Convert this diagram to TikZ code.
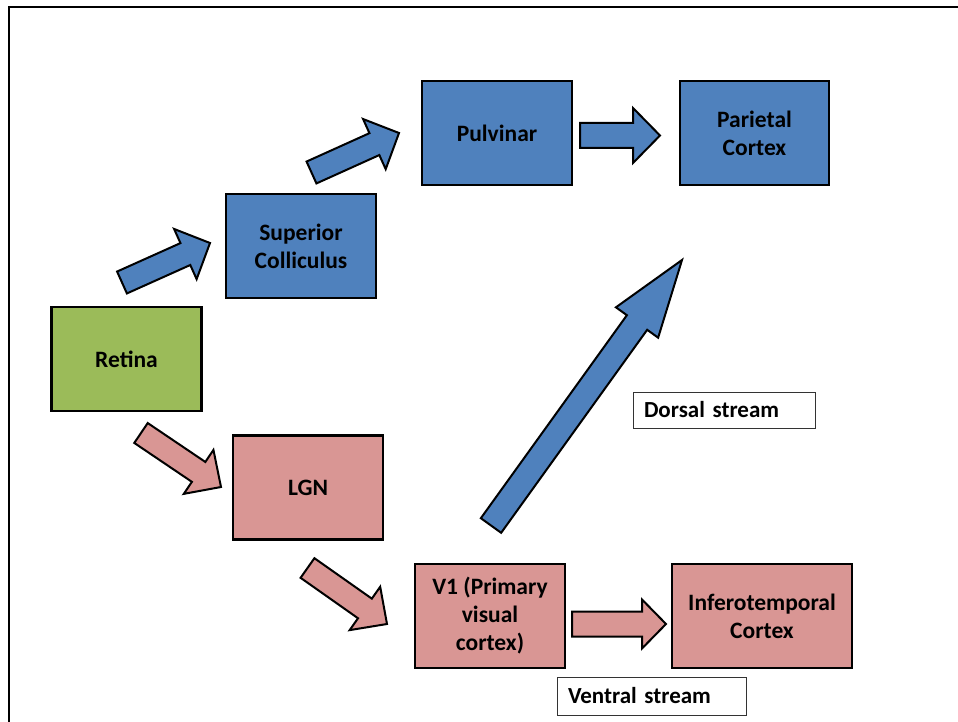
\documentclass[tikz,border=0pt]{standalone}
\usepackage{fontspec}
\setmainfont{Carlito}
\usetikzlibrary{calc}
\definecolor{boxblue}{HTML}{4F81BD}
\definecolor{boxgreen}{HTML}{9BBB59}
\definecolor{boxpink}{HTML}{D99694}
% #1 tail, #2 tip, #3 half shaft width, #4 half head width, #5 head length, #6 style
\newcommand{\blockarrow}[6]{%
  \coordinate (hb-#2) at ($(#2)!#5!(#1)$);
  \draw[#6] ($(#1)!#3!90:(#2)$) -- ($(hb-#2)!#3!90:(#2)$) -- ($(hb-#2)!#4!90:(#2)$)
    -- (#2) -- ($(hb-#2)!#4!-90:(#2)$) -- ($(hb-#2)!#3!-90:(#2)$)
    -- ($(#1)!#3!-90:(#2)$) -- cycle;}
\begin{document}
\begin{tikzpicture}[x=1pt,y=-1pt,
  stagebox/.style={draw=black,line width=2.5pt,minimum height=104pt,minimum width=150pt,
    inner sep=0pt,align=center,font=\fontsize{23.5}{28}\selectfont\bfseries},
  labelbox/.style={draw=black!80,line width=0.8pt,fill=white,inner xsep=11pt,inner ysep=0pt,
    align=left,font=\fontsize{23}{28}\selectfont\bfseries},
  bluearrow/.style={draw=black,line width=2pt,fill=boxblue},
  pinkarrow/.style={draw=black,line width=2pt,fill=boxpink}]
\useasboundingbox (0,0) rectangle (958,722);
\fill[white] (0,0) rectangle (958,722);
\draw[line width=2pt] (9,722) -- (9,7) -- (958,7);
% boxes
\node[stagebox,fill=boxblue] (pulv) at (497,133) {Pulvinar};
\node[stagebox,fill=boxblue,minimum width=149pt] (par) at (754.5,133) {Parietal\\Cortex};
\node[stagebox,fill=boxblue] (sc) at (301,246) {Superior\\Colliculus};
\node[stagebox,fill=boxgreen] (ret) at (126.5,359) {Retina};
\node[stagebox,fill=boxpink] (lgn) at (308,487.5) {LGN};
\node[stagebox,fill=boxpink] (v1) at (490,616) {V1 (Primary\\visual\\cortex)};
\node[stagebox,fill=boxpink,minimum width=180pt] (it) at (762,616) {Inferotemporal\\Cortex};
\node[labelbox,minimum height=36pt,text width=160pt] (dorsal) at (724,410) {Dorsal stream};
\node[labelbox,minimum height=38pt,text width=167pt] (ventral) at (651.5,696) {Ventral stream};
% arrow anchor coordinates
\coordinate (a1s) at (122,282.5);   \coordinate (a1e) at (210,243);
\coordinate (a2s) at (311.5,172.5); \coordinate (a2e) at (399,133);
\coordinate (a3s) at (580,135.5);   \coordinate (a3e) at (660,135.5);
\coordinate (a4s) at (141,433);     \coordinate (a4e) at (221,487);
\coordinate (a5s) at (307.5,568);   \coordinate (a5e) at (387,624);
\coordinate (a6s) at (572,624);     \coordinate (a6e) at (666,624);
\coordinate (a7s) at (491,525.5);   \coordinate (a7e) at (682,260);
% block arrows
\blockarrow{a1s}{a1e}{12pt}{27.5pt}{27pt}{bluearrow}
\blockarrow{a2s}{a2e}{12pt}{27.5pt}{27pt}{bluearrow}
\blockarrow{a3s}{a3e}{12.5pt}{27.5pt}{27pt}{bluearrow}
\blockarrow{a7s}{a7e}{12.5pt}{26pt}{77pt}{bluearrow}
\blockarrow{a4s}{a4e}{12pt}{26.5pt}{27pt}{pinkarrow}
\blockarrow{a5s}{a5e}{12pt}{26.5pt}{27pt}{pinkarrow}
\blockarrow{a6s}{a6e}{12.5pt}{24.5pt}{24pt}{pinkarrow}
\end{tikzpicture}
\end{document}
